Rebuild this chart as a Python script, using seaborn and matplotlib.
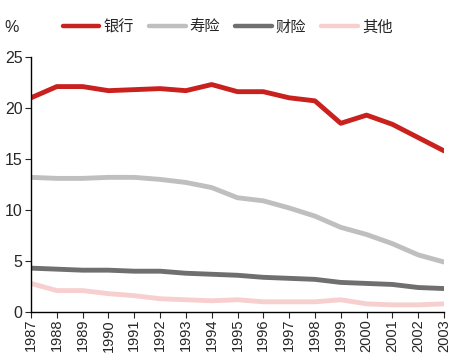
import seaborn as sns
import pandas as pd
import matplotlib.pyplot as plt

years = list(range(1987, 2004))
bank = [21.0, 22.1, 22.1, 21.7, 21.8, 21.9, 21.7, 22.3, 21.6, 21.6, 21.0, 20.7, 18.5, 19.3, 18.4, 17.1, 15.8]
life = [13.2, 13.1, 13.1, 13.2, 13.2, 13.0, 12.7, 12.2, 11.2, 10.9, 10.2, 9.4, 8.3, 7.6, 6.7, 5.6, 4.9]
pc = [4.3, 4.2, 4.1, 4.1, 4.0, 4.0, 3.8, 3.7, 3.6, 3.4, 3.3, 3.2, 2.9, 2.8, 2.7, 2.4, 2.3]
other = [2.8, 2.1, 2.1, 1.8, 1.6, 1.3, 1.2, 1.1, 1.2, 1.0, 1.0, 1.0, 1.2, 0.8, 0.7, 0.7, 0.8]
names = ["银行", "寿险", "财险", "其他"]
colors = ["#C9211E", "#BFBFBF", "#6F6F6F", "#F7CFCF"]

df = pd.DataFrame({"year": years * 4,
                   "value": bank + life + pc + other,
                   "type": [n for n in names for _ in years]})

sns.set_style("white")
plt.rcParams["font.family"] = ["Liberation Sans", "Noto Sans CJK SC", "DejaVu Sans"]

fig = plt.figure(figsize=(4.55, 3.64), dpi=100)
ax = fig.add_axes([31 / 455, 1 - 312 / 364, 413 / 455, 255 / 364])
sns.lineplot(data=df, x="year", y="value", hue="type", palette=colors,
             linewidth=3.5, ax=ax, legend=False)

ax.set_xlim(1987, 2003)
ax.set_ylim(0, 25)
ax.set_yticks([0, 5, 10, 15, 20, 25])
ax.set_xticks(years)
ax.set_xticklabels([str(y) for y in years], rotation=90, fontsize=10.5)
ax.tick_params(axis="y", labelsize=11.5, length=4, direction="out", left=True, pad=2)
ax.tick_params(axis="x", length=4, direction="out", bottom=True, pad=1)
ax.set_xlabel("")
ax.set_ylabel("")
for s in ["top", "right"]:
    ax.spines[s].set_visible(False)
for s in ["left", "bottom"]:
    ax.spines[s].set_color("black")
    ax.spines[s].set_linewidth(1)
ax.grid(False)

fig.text(4 / 455, 1 - 28 / 364, "%", fontsize=11.5, va="center")
handles = [plt.Line2D([], [], color=c, linewidth=3.2) for c in colors]
fig.legend(handles, names, loc="center", bbox_to_anchor=(0.50, 1 - 27 / 364),
           ncol=4, frameon=False, handlelength=2.4, handletextpad=0.25,
           columnspacing=1.0, prop={"family": "Noto Sans CJK SC", "size": 11})

fig.savefig("out.png", dpi=100)
